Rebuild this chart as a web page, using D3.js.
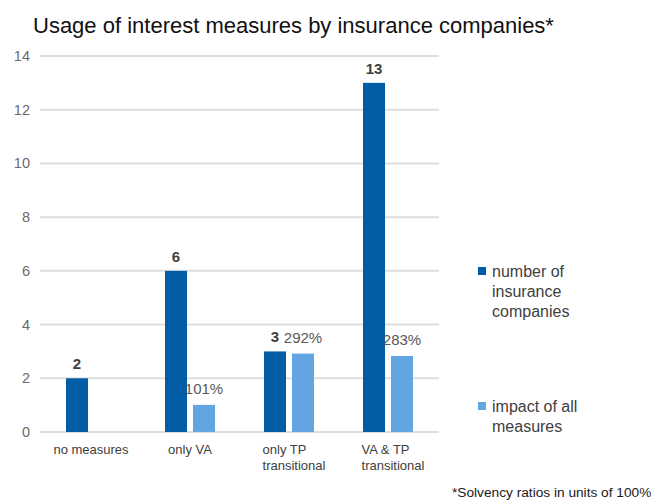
<!DOCTYPE html>
<html><head><meta charset="utf-8">
<script src="https://cdn.jsdelivr.net/npm/d3@7"></script>
<style>body{margin:0;background:#fff}svg{display:block}text{font-family:"Liberation Sans",Arial,sans-serif}</style>
</head><body><svg id="c" width="651" height="502"></svg>
<script>
const categories = [["no measures"], ["only VA"], ["only TP","transitional"], ["VA & TP","transitional"]];
const companies = [2, 6, 3, 13];
const impact = [null, 1.01, 2.92, 2.83];
const impactLabels = [null, "101%", "292%", "283%"];
const yTicks = [0, 2, 4, 6, 8, 10, 12, 14];
const seriesNames = [["number of","insurance","companies"], ["impact of all","measures"]];
const colors = ["#005DA6", "#63A5E2"];

const svg = d3.select("#c");
const x = d3.scaleBand().domain(d3.range(categories.length)).range([41.5, 437.5]);
const y = d3.scaleLinear().domain([0, 14]).range([432, 56]);
const barW = 22, gap = 6;

svg.append("text").attr("x", 33).attr("y", 33).attr("font-size", 22).attr("fill", "#111")
  .text("Usage of interest measures by insurance companies*");

const grid = svg.append("g");
grid.selectAll("line").data(yTicks).join("line")
  .attr("x1", 40).attr("x2", 439).attr("y1", d => y(d)).attr("y2", d => y(d))
  .attr("stroke", "#dedede").attr("stroke-width", 2);
grid.selectAll("text").data(yTicks).join("text")
  .attr("x", 30).attr("y", d => y(d) + 5).attr("text-anchor", "end")
  .attr("font-size", 14.5).attr("fill", "#6a6a6a").text(d => d);

const cx = i => x(i) + x.bandwidth() / 2;

svg.selectAll(".b1").data(companies).join("rect").attr("class", "b1")
  .attr("x", (d, i) => cx(i) - gap / 2 - barW).attr("width", barW)
  .attr("y", d => y(d)).attr("height", d => y(0) - y(d)).attr("fill", colors[0]);
svg.selectAll(".b2").data(impact.map((v, i) => ({v, i})).filter(d => d.v != null)).join("rect").attr("class", "b2")
  .attr("x", d => cx(d.i) + gap / 2).attr("width", barW)
  .attr("y", d => y(d.v)).attr("height", d => y(0) - y(d.v)).attr("fill", colors[1]);

svg.selectAll(".l1").data(companies).join("text").attr("class", "l1")
  .attr("x", (d, i) => cx(i) - gap / 2 - barW / 2).attr("y", d => y(d) - 9)
  .attr("text-anchor", "middle").attr("font-size", 15).attr("font-weight", "bold").attr("fill", "#404040").text(d => d);
svg.selectAll(".l2").data(impact.map((v, i) => ({v, i})).filter(d => d.v != null)).join("text").attr("class", "l2")
  .attr("x", d => cx(d.i) + gap / 2 + barW / 2).attr("y", d => y(d.v) - 11)
  .attr("text-anchor", "middle").attr("font-size", 15).attr("fill", "#595959").text(d => impactLabels[d.i]);

categories.forEach((lines, i) => {
  const g = svg.append("g");
  const ts = lines.map((s, k) => g.append("text").attr("y", 454 + k * 16).attr("font-size", 13).attr("fill", "#404040").text(s));
  const w = d3.max(ts, t => t.node().getComputedTextLength());
  const left = cx(i) - w / 2 + (lines.length > 1 ? 5 : 0);
  ts.forEach(t => t.attr("x", left));
});

const legY = [[277, 297, 317], [412, 432]];
seriesNames.forEach((lines, s) => {
  svg.append("rect").attr("x", 478).attr("y", legY[s][0] - 10).attr("width", 8).attr("height", 8).attr("fill", colors[s]);
  lines.forEach((t, k) => svg.append("text").attr("x", 492).attr("y", legY[s][k]).attr("font-size", 16).attr("fill", "#404040").text(t));
});

svg.append("text").attr("x", 452).attr("y", 497).attr("font-size", 13.7).attr("fill", "#1a1a1a")
  .text("*Solvency ratios in units of 100%");
</script></body></html>
